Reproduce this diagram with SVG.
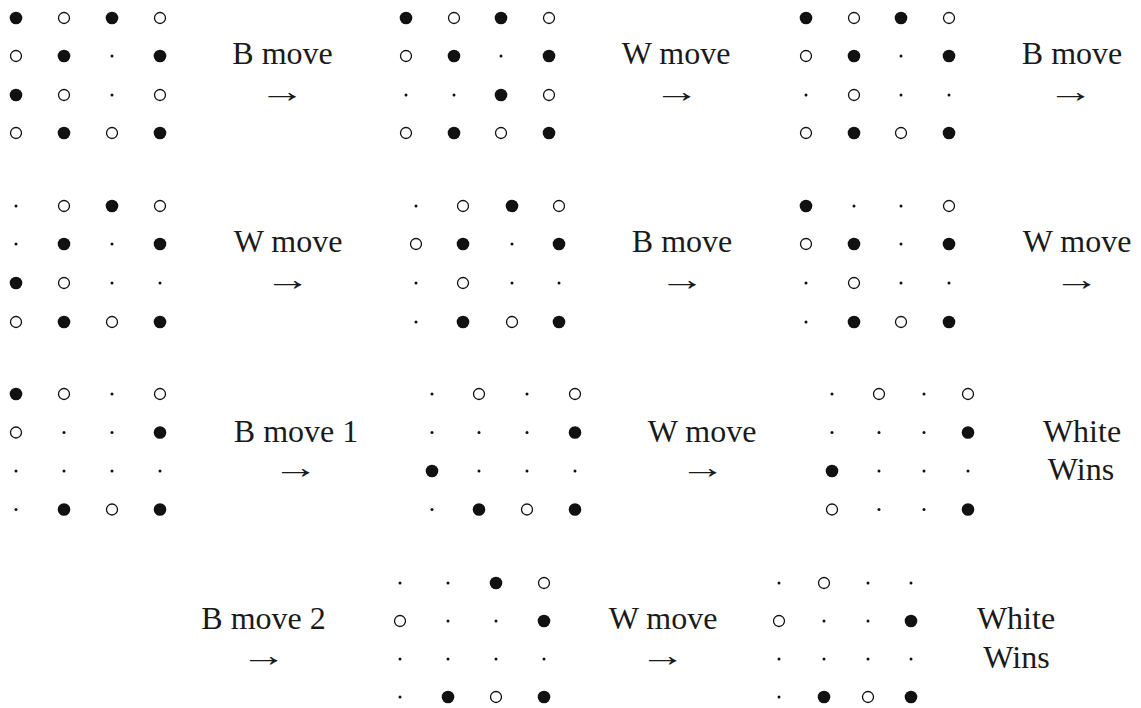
<svg xmlns="http://www.w3.org/2000/svg" width="1141" height="708" viewBox="0 0 1141 708">
<defs>
<circle id="B" r="6.3" fill="#111"/>
<circle id="W" r="5.5" fill="#fff" stroke="#111" stroke-width="1.3"/>
<circle id="D" r="1.5" fill="#111"/>
</defs>
<rect width="1141" height="708" fill="#fff"/>

<g id="board1">
<use href="#B" x="16" y="18"/><use href="#W" x="64" y="18"/><use href="#B" x="112" y="18"/><use href="#W" x="160" y="18"/>
<use href="#W" x="16" y="56"/><use href="#B" x="64" y="56"/><use href="#D" x="112" y="56"/><use href="#B" x="160" y="56"/>
<use href="#B" x="16" y="95"/><use href="#W" x="64" y="95"/><use href="#D" x="112" y="95"/><use href="#W" x="160" y="95"/>
<use href="#W" x="16" y="133"/><use href="#B" x="64" y="133"/><use href="#W" x="112" y="133"/><use href="#B" x="160" y="133"/>
</g>
<g id="board2">
<use href="#B" x="406" y="18"/><use href="#W" x="454" y="18"/><use href="#B" x="501" y="18"/><use href="#W" x="549" y="18"/>
<use href="#W" x="406" y="56"/><use href="#B" x="454" y="56"/><use href="#D" x="501" y="56"/><use href="#B" x="549" y="56"/>
<use href="#D" x="406" y="95"/><use href="#D" x="454" y="95"/><use href="#B" x="501" y="95"/><use href="#W" x="549" y="95"/>
<use href="#W" x="406" y="133"/><use href="#B" x="454" y="133"/><use href="#W" x="501" y="133"/><use href="#B" x="549" y="133"/>
</g>
<g id="board3">
<use href="#B" x="806" y="18"/><use href="#W" x="854" y="18"/><use href="#B" x="901" y="18"/><use href="#W" x="949" y="18"/>
<use href="#W" x="806" y="56"/><use href="#B" x="854" y="56"/><use href="#D" x="901" y="56"/><use href="#B" x="949" y="56"/>
<use href="#D" x="806" y="95"/><use href="#W" x="854" y="95"/><use href="#D" x="901" y="95"/><use href="#D" x="949" y="95"/>
<use href="#W" x="806" y="133"/><use href="#B" x="854" y="133"/><use href="#W" x="901" y="133"/><use href="#B" x="949" y="133"/>
</g>

<g id="board4">
<use href="#D" x="16" y="206"/><use href="#W" x="64" y="206"/><use href="#B" x="112" y="206"/><use href="#W" x="160" y="206"/>
<use href="#D" x="16" y="244"/><use href="#B" x="64" y="244"/><use href="#D" x="112" y="244"/><use href="#B" x="160" y="244"/>
<use href="#B" x="16" y="283"/><use href="#W" x="64" y="283"/><use href="#D" x="112" y="283"/><use href="#D" x="160" y="283"/>
<use href="#W" x="16" y="322"/><use href="#B" x="64" y="322"/><use href="#W" x="112" y="322"/><use href="#B" x="160" y="322"/>
</g>
<g id="board5">
<use href="#D" x="416" y="206"/><use href="#W" x="463" y="206"/><use href="#B" x="512" y="206"/><use href="#W" x="559" y="206"/>
<use href="#W" x="416" y="244"/><use href="#B" x="463" y="244"/><use href="#D" x="512" y="244"/><use href="#B" x="559" y="244"/>
<use href="#D" x="416" y="283"/><use href="#W" x="463" y="283"/><use href="#D" x="512" y="283"/><use href="#D" x="559" y="283"/>
<use href="#D" x="416" y="322"/><use href="#B" x="463" y="322"/><use href="#W" x="512" y="322"/><use href="#B" x="559" y="322"/>
</g>
<g id="board6">
<use href="#B" x="806" y="206"/><use href="#D" x="854" y="206"/><use href="#D" x="901" y="206"/><use href="#W" x="949" y="206"/>
<use href="#W" x="806" y="244"/><use href="#B" x="854" y="244"/><use href="#D" x="901" y="244"/><use href="#B" x="949" y="244"/>
<use href="#D" x="806" y="283"/><use href="#W" x="854" y="283"/><use href="#D" x="901" y="283"/><use href="#D" x="949" y="283"/>
<use href="#D" x="806" y="322"/><use href="#B" x="854" y="322"/><use href="#W" x="901" y="322"/><use href="#B" x="949" y="322"/>
</g>

<g id="board7">
<use href="#B" x="16" y="394"/><use href="#W" x="64" y="394"/><use href="#D" x="112" y="394"/><use href="#W" x="160" y="394"/>
<use href="#W" x="16" y="432.5"/><use href="#D" x="64" y="432.5"/><use href="#D" x="112" y="432.5"/><use href="#B" x="160" y="432.5"/>
<use href="#D" x="16" y="471"/><use href="#D" x="64" y="471"/><use href="#D" x="112" y="471"/><use href="#D" x="160" y="471"/>
<use href="#D" x="16" y="509.5"/><use href="#B" x="64" y="509.5"/><use href="#W" x="112" y="509.5"/><use href="#B" x="160" y="509.5"/>
</g>
<g id="board8">
<use href="#D" x="432" y="394"/><use href="#W" x="479" y="394"/><use href="#D" x="527" y="394"/><use href="#W" x="575" y="394"/>
<use href="#D" x="432" y="432.5"/><use href="#D" x="479" y="432.5"/><use href="#D" x="527" y="432.5"/><use href="#B" x="575" y="432.5"/>
<use href="#B" x="432" y="471"/><use href="#D" x="479" y="471"/><use href="#D" x="527" y="471"/><use href="#D" x="575" y="471"/>
<use href="#D" x="432" y="509.5"/><use href="#B" x="479" y="509.5"/><use href="#W" x="527" y="509.5"/><use href="#B" x="575" y="509.5"/>
</g>
<g id="board9">
<use href="#D" x="832" y="394"/><use href="#W" x="879" y="394"/><use href="#D" x="924" y="394"/><use href="#W" x="968" y="394"/>
<use href="#D" x="832" y="432.5"/><use href="#D" x="879" y="432.5"/><use href="#D" x="924" y="432.5"/><use href="#B" x="968" y="432.5"/>
<use href="#B" x="832" y="471"/><use href="#D" x="879" y="471"/><use href="#D" x="924" y="471"/><use href="#D" x="968" y="471"/>
<use href="#W" x="832" y="509.5"/><use href="#D" x="879" y="509.5"/><use href="#D" x="924" y="509.5"/><use href="#B" x="968" y="509.5"/>
</g>

<g id="board10">
<use href="#D" x="400" y="583"/><use href="#D" x="448" y="583"/><use href="#B" x="496" y="583"/><use href="#W" x="544" y="583"/>
<use href="#W" x="400" y="621"/><use href="#D" x="448" y="621"/><use href="#D" x="496" y="621"/><use href="#B" x="544" y="621"/>
<use href="#D" x="400" y="659"/><use href="#D" x="448" y="659"/><use href="#D" x="496" y="659"/><use href="#D" x="544" y="659"/>
<use href="#D" x="400" y="697"/><use href="#B" x="448" y="697"/><use href="#W" x="496" y="697"/><use href="#B" x="544" y="697"/>
</g>
<g id="board11">
<use href="#D" x="779" y="583"/><use href="#W" x="824" y="583"/><use href="#D" x="868" y="583"/><use href="#D" x="911" y="583"/>
<use href="#W" x="779" y="621"/><use href="#D" x="824" y="621"/><use href="#D" x="868" y="621"/><use href="#B" x="911" y="621"/>
<use href="#D" x="779" y="659"/><use href="#D" x="824" y="659"/><use href="#D" x="868" y="659"/><use href="#D" x="911" y="659"/>
<use href="#D" x="779" y="697"/><use href="#B" x="824" y="697"/><use href="#W" x="868" y="697"/><use href="#B" x="911" y="697"/>
</g>

<g id="labels" font-family="Liberation Serif, serif" font-size="32" fill="#1a1a1a" text-anchor="middle">
<text x="282.5" y="64">B move</text>
<text x="676" y="64">W move</text>
<text x="1072" y="64">B move</text>
<text x="288" y="252">W move</text>
<text x="682" y="252">B move</text>
<text x="1077" y="252">W move</text>
<text x="296" y="441.5">B move 1</text>
<text x="702" y="441.5">W move</text>
<text x="1082" y="441.5">White</text>
<text x="1081" y="479.5">Wins</text>
<text x="263.5" y="629">B move 2</text>
<text x="663" y="629">W move</text>
<text x="1016" y="629">White</text>
<text x="1016.5" y="668">Wins</text>
</g>
<g id="connectors" font-family="Liberation Serif, serif" font-size="32" fill="#1a1a1a" text-anchor="middle">
<text transform="translate(282.5,102) scale(1.45,1)">→</text>
<text transform="translate(677,102) scale(1.45,1)">→</text>
<text transform="translate(1071,102) scale(1.45,1)">→</text>
<text transform="translate(288,290) scale(1.45,1)">→</text>
<text transform="translate(682.5,290) scale(1.45,1)">→</text>
<text transform="translate(1077,290) scale(1.45,1)">→</text>
<text transform="translate(296,478) scale(1.45,1)">→</text>
<text transform="translate(703,478) scale(1.45,1)">→</text>
<text transform="translate(264,666) scale(1.45,1)">→</text>
<text transform="translate(663,666) scale(1.45,1)">→</text>
</g>
</svg>
